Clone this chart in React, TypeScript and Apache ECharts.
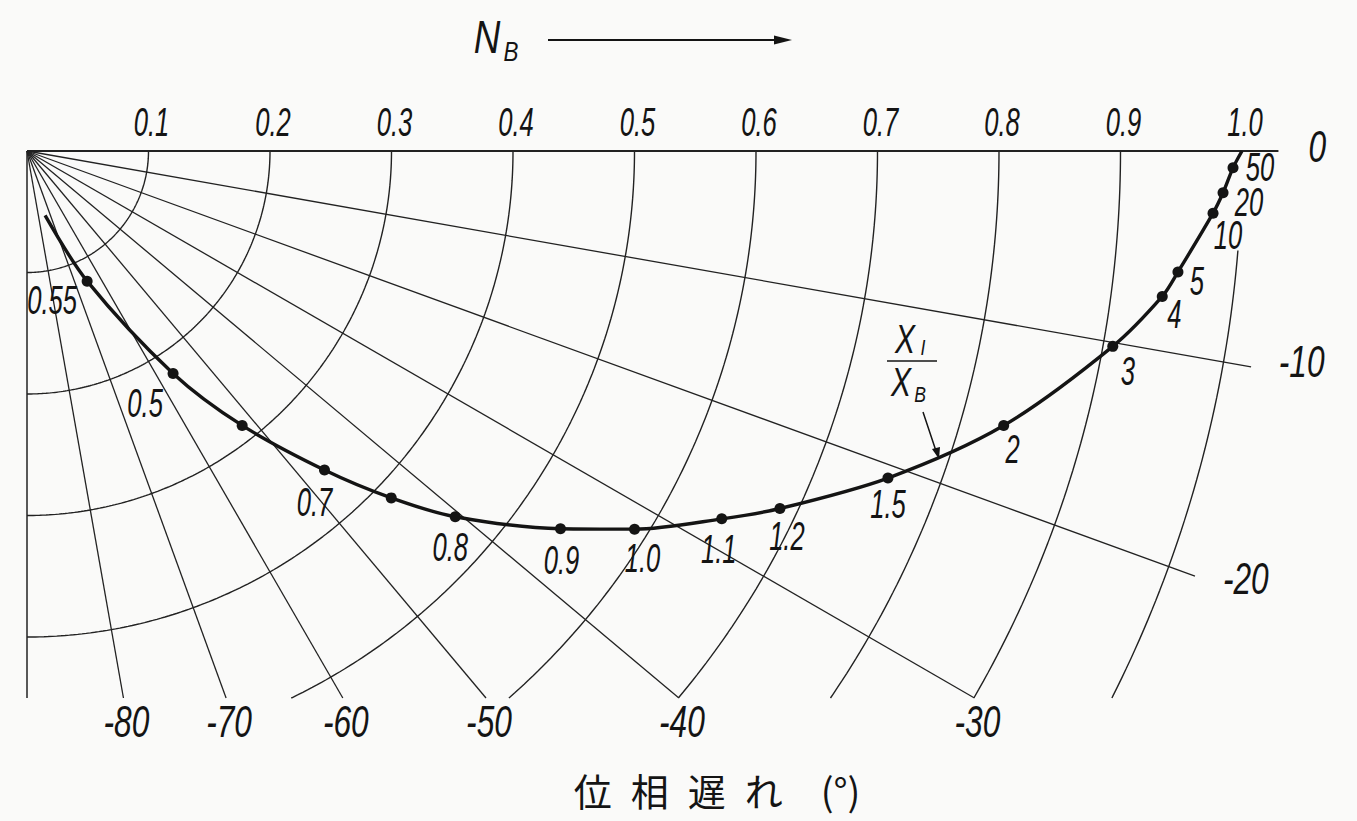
import React, { useEffect, useRef } from 'react';
import * as echarts from 'echarts';

// X_I / X_B ratio written next to each point of the locus ('' = no label)
const ratioLabels = ['', '0.55', '0.5', '', '0.7', '', '0.8', '0.9', '1.0', '1.1', '1.2', '1.5', '2', '3', '4', '5', '10', '20', '50', ''];
// |N_B| at each point of the locus
const gainNB = [0.055, 0.118, 0.219, 0.287, 0.359, 0.414, 0.4635, 0.538, 0.589, 0.647, 0.686, 0.758, 0.835, 0.908, 0.942, 0.9525, 0.9775, 0.985, 0.9927, 1.0];
// phase of N_B in degrees (negative = lag)
const phaseNB = [-74.3, -65.2, -56.7, -51.9, -47.0, -43.6, -40.5, -35.3, -31.9, -27.9, -25.4, -20.8, -15.7, -10.2, -7.3, -6.0, -3.0, -2.0, -0.8, 0];
// points marked with a dot
const dotted = [false, true, true, true, true, true, true, true, true, true, true, true, true, true, true, true, true, true, true, false];

// polar grid
const radiusTicks = [0.1, 0.2, 0.3, 0.4, 0.5, 0.6, 0.7, 0.8, 0.9, 1.0];
const radiusTickLabels = ['0.1', '0.2', '0.3', '0.4', '0.5', '0.6', '0.7', '0.8', '0.9', '1.0'];
const phaseTicks = [0, -10, -20, -30, -40, -50, -60, -70, -80, -90];
const phaseTickLabels = ['0', '-10', '-20', '-30', '-40', '-50', '-60', '-70', '-80', ''];

// label placement around each dot, in px
const labelOffsets: [number, number][] = [
  [0, 0], [-35, 19], [-28, 30], [0, 0], [-10, 32], [0, 0], [-5, 31], [1, 32], [8, 29], [-3, 30],
  [7, 28], [0, 26], [9, 24], [15, 25], [12, 18], [19, 9], [15, 22], [26, 10], [27, -1], [0, 0],
];

const CENTER: [number, number] = [27, 151];
const UNIT = 1215; // px for |N_B| = 1
const R_MAX = 1.1;
const BOTTOM = 698; // lower edge of the grid
const R_BOTTOM = (BOTTOM - CENTER[1]) / UNIT;
const INK = '#141414';
const GRID = '#222222';
const DEG = Math.PI / 180;

const lag = (phase: number) => -phase;

function arcSeries(r: number) {
  const endLag = r <= R_BOTTOM ? 90 : Math.asin(R_BOTTOM / r) / DEG;
  const startLag = r >= 1 ? 4.7 : 0;
  const pts: number[][] = [];
  for (let a = startLag; a < endLag; a += 0.5) pts.push([r, a]);
  pts.push([r, endLag]);
  return {
    type: 'line', coordinateSystem: 'polar', data: pts, symbol: 'none', showSymbol: false,
    lineStyle: { color: GRID, width: 1.4 }, silent: true, z: 1, clip: false,
  };
}

function rayEnd(phase: number) {
  const a = lag(phase);
  if (a === 0) return 1.03;
  return Math.min(1.023, R_BOTTOM / Math.sin(a * DEG));
}

function raySeries(phase: number) {
  return {
    type: 'line', coordinateSystem: 'polar',
    data: [[0, lag(phase)], [rayEnd(phase), lag(phase)]],
    symbol: 'none', showSymbol: false,
    lineStyle: { color: GRID, width: phase === 0 ? 1.8 : phase === -90 ? 1.5 : 1.3 },
    silent: true, z: 1, clip: false,
  };
}

function numText(text: string, x: number, y: number, size = 40, sx = 0.64) {
  return {
    type: 'text', x, y, scaleX: sx, silent: true, z: 10,
    style: {
      text, fontSize: size, fontFamily: 'Liberation Sans, Arial, sans-serif', fontStyle: 'italic',
      fill: INK, align: 'center', verticalAlign: 'middle', textAlign: 'center', textVerticalAlign: 'middle',
    },
  };
}

export default function App() {
  const ref = useRef<HTMLDivElement>(null);

  useEffect(() => {
    const el = ref.current;
    if (!el) return;
    const chart = echarts.init(el, undefined, { renderer: 'svg' });

    const curveData = gainNB.map((g, i) => [g, lag(phaseNB[i])]);
    const dotData = curveData.filter((_, i) => dotted[i]);

    chart.setOption({
      animation: false,
      backgroundColor: '#fafaf9',
      polar: { center: CENTER, radius: UNIT * R_MAX },
      angleAxis: {
        type: 'value', min: 0, max: 360, startAngle: 0, clockwise: true,
        axisLine: { show: false }, axisTick: { show: false }, axisLabel: { show: false }, splitLine: { show: false },
      },
      radiusAxis: {
        type: 'value', min: 0, max: R_MAX,
        axisLine: { show: false }, axisTick: { show: false }, axisLabel: { show: false }, splitLine: { show: false },
      },
      series: [
        {
          type: 'line', coordinateSystem: 'polar', data: curveData, smooth: 0.3,
          symbol: 'none', showSymbol: false, lineStyle: { color: INK, width: 3.4 }, z: 5, clip: false,
        },
        {
          type: 'scatter', coordinateSystem: 'polar', data: dotData, symbol: 'circle', symbolSize: 11,
          itemStyle: { color: INK, opacity: 1 }, z: 6, silent: true,
        },
        ...radiusTicks.map(arcSeries),
        ...phaseTicks.map(raySeries),
      ],
    });

    const toPx = (r: number, phase: number): number[] => {
      let p: any = null;
      try {
        p = chart.convertToPixel({ seriesIndex: 0 }, [r, lag(phase)]);
      } catch (e) {
        p = null;
      }
      if (!p || !isFinite(p[0])) {
        const a = lag(phase) * DEG;
        p = [CENTER[0] + r * UNIT * Math.cos(a), CENTER[1] + r * UNIT * Math.sin(a)];
      }
      return p;
    };

    const elements: any[] = [];

    // |N_B| scale along the top edge
    radiusTicks.forEach((r, i) => {
      const p = toPx(r, 0);
      elements.push(numText(radiusTickLabels[i], p[0] + 3, 122));
    });

    // phase scale
    phaseTicks.forEach((ph, i) => {
      const text = phaseTickLabels[i];
      if (!text) return;
      if (ph === 0) {
        const p = toPx(1.062, 0);
        elements.push(numText(text, p[0], p[1] - 4, 44, 0.72));
      } else if (rayEnd(ph) > 1) {
        const p = toPx(1.06, ph + 0.6);
        elements.push(numText(text, p[0] + 4, p[1], 44, 0.72));
      } else {
        const p = toPx(rayEnd(ph), ph);
        elements.push(numText(text, p[0] + 3, 722, 44, 0.72));
      }
    });

    // ratio labels on the locus
    ratioLabels.forEach((t, i) => {
      if (!t) return;
      const p = toPx(gainNB[i], phaseNB[i]);
      const [dx, dy] = labelOffsets[i];
      elements.push(numText(t, p[0] + dx, p[1] + dy));
    });

    // N_B with arrow
    elements.push(numText('N', 487, 37, 46, 0.8));
    elements.push(numText('B', 511, 51, 28, 0.8));
    elements.push({ type: 'line', silent: true, shape: { x1: 548, y1: 40, x2: 780, y2: 40 }, style: { stroke: INK, lineWidth: 2 } });
    elements.push({ type: 'polygon', silent: true, shape: { points: [[774, 35.5], [792, 40], [774, 44.5]] }, style: { fill: INK } });

    // X_I / X_B with pointer to the locus
    elements.push(numText('X', 905, 339, 40, 0.75));
    elements.push(numText('I', 923, 347, 22, 0.8));
    elements.push({ type: 'line', silent: true, shape: { x1: 887, y1: 361, x2: 937, y2: 361 }, style: { stroke: INK, lineWidth: 1.6 } });
    elements.push(numText('X', 901, 382, 40, 0.75));
    elements.push(numText('B', 920, 394, 22, 0.8));
    elements.push({ type: 'line', silent: true, shape: { x1: 923, y1: 412, x2: 936, y2: 451 }, style: { stroke: INK, lineWidth: 1.5 } });
    elements.push({ type: 'polygon', silent: true, shape: { points: [[932, 449], [939, 459], [940, 447]] }, style: { fill: INK } });

    // phase axis title
    elements.push({
      type: 'text', x: 717, y: 789, silent: true,
      style: {
        text: '位\u2002相\u2002遅\u2002れ\u2002\u2002(°)', fontSize: 38,
        fontFamily: '"Noto Sans CJK JP", "Noto Sans CJK SC", sans-serif', fill: INK,
        align: 'center', verticalAlign: 'middle', textAlign: 'center', textVerticalAlign: 'middle',
      },
    });

    chart.setOption({ graphic: { elements } });

    return () => chart.dispose();
  }, []);

  return (
    <div
      ref={ref}
      style={{ position: 'absolute', left: 0, top: 0, width: 1357, height: 821, background: '#fafaf9' }}
    />
  );
}
